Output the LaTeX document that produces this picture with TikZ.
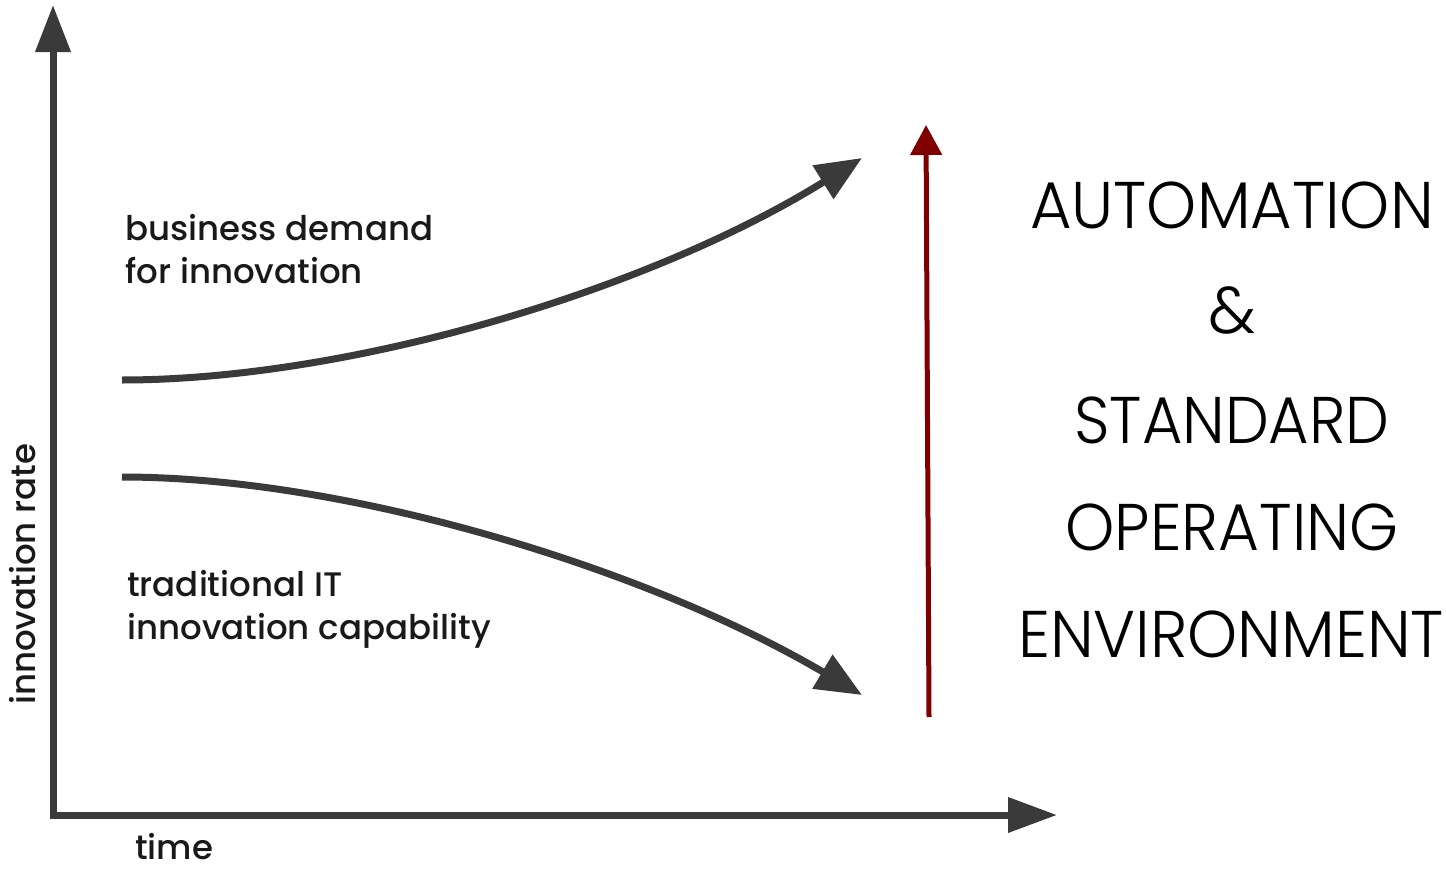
\documentclass[tikz,border=0pt]{standalone}
\usepackage{fontspec}
\setmainfont{Poppins Medium}
\newfontfamily\lightfont{Poppins Light}
\usetikzlibrary{arrows.meta}
\definecolor{axisgray}{HTML}{3A3A3A}
\definecolor{darkred}{HTML}{7E0000}
\newcommand{\squeeze}[1]{\scalebox{0.965}[1]{#1}}
\tikzset{
  axisline/.style={draw=axisgray,line width=7pt},
  curveline/.style={draw=axisgray,line width=7pt,-{Triangle[length=46pt,width=38pt]}},
  redline/.style={draw=darkred,line width=5pt,-{Triangle[length=30pt,width=31pt]}},
  lbl/.style={inner sep=0pt,anchor=base west,align=left,text=black!90,font=\fontsize{34}{43}\selectfont},
  bigtxt/.style={inner sep=0pt,anchor=base,font=\lightfont\fontsize{66}{66}\selectfont}
}
\begin{document}
\begin{tikzpicture}[x=1pt,y=-1pt]
\useasboundingbox (0,0) rectangle (1446,870);
\coordinate (ytip) at (53,5);
\coordinate (corner) at (53,815);
\coordinate (xtip) at (1057,815);
\draw[axisline,{Triangle[length=47pt,width=34pt]}-{Triangle[length=49pt,width=34pt]}] (ytip) -- (corner) -- (xtip);
\coordinate (u0) at (122,380);
\coordinate (u1) at (862,158);
\coordinate (l0) at (122,477);
\coordinate (l1) at (862,695);
\draw[curveline] (u0) .. controls (350,380) and (650,290) .. (u1);
\draw[curveline] (l0) .. controls (350,477) and (650,570) .. (l1);
\coordinate (r0) at (929,717);
\coordinate (r1) at (926,125);
\draw[redline] (r0) -- (r1);
\node[lbl] (demand) at (125,283) {business demand\\for innovation};
\node[lbl] (capab) at (127,639) {traditional IT\\innovation capability};
\node[lbl,rotate=90] (rate) at (35,705) {innovation rate};
\node[lbl] (time) at (135,859) {time};
\node[bigtxt] (t1) at (1232,228) {\squeeze{AUTOMATION}};
\node[bigtxt] (t2) at (1232,333) {\&};
\node[bigtxt] (t3) at (1232,443) {\scalebox{0.94}[1]{STANDARD}};
\node[bigtxt] (t4) at (1232,550) {\scalebox{0.95}[1]{OPERATING}};
\node[bigtxt] (t5) at (1231,657) {\squeeze{ENVIRONMENT}};
\end{tikzpicture}
\end{document}
